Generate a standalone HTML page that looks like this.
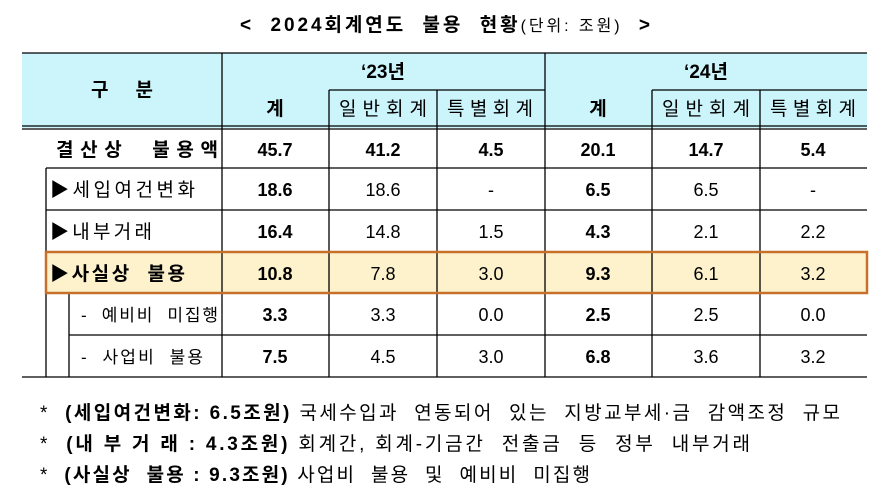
<!DOCTYPE html>
<html><head><meta charset="utf-8"><style>
body{margin:0;background:#fff;width:893px;height:504px;overflow:hidden}
svg{display:block;font-family:"Liberation Sans","Noto Sans CJK KR",sans-serif}
text{white-space:pre}
</style></head><body>
<svg width="893" height="504" viewBox="0 0 893 504">
<text x="240" y="31" textLength="410" lengthAdjust="spacing" font-size="19" font-weight="bold">&lt;  2024회계연도  불용  현황<tspan font-size="16" font-weight="normal">(단위: 조원)</tspan>  &gt;</text>
<rect x="22" y="53" width="845" height="75" fill="#ccf5fb"/>
<rect x="46" y="252" width="821" height="41" fill="#fdf2cc"/>
<g stroke="#000" stroke-width="1.3" fill="none">
<line x1="22" y1="53" x2="867" y2="53"/>
<line x1="329" y1="90" x2="545" y2="90"/><line x1="652" y1="90" x2="867" y2="90"/>
<line x1="22" y1="126" x2="867" y2="126"/><line x1="22" y1="129" x2="867" y2="129"/>
<line x1="46" y1="168" x2="867" y2="168"/>
<line x1="46" y1="210" x2="867" y2="210"/>
<line x1="69" y1="335" x2="867" y2="335"/>
<line x1="22" y1="377" x2="867" y2="377"/>
<line x1="222" y1="53" x2="222" y2="377"/><line x1="545" y1="53" x2="545" y2="377"/>
<line x1="329" y1="90" x2="329" y2="377"/><line x1="437" y1="90" x2="437" y2="377"/>
<line x1="652" y1="90" x2="652" y2="377"/><line x1="760" y1="90" x2="760" y2="377"/>
<line x1="46" y1="168" x2="46" y2="377"/><line x1="69" y1="293" x2="69" y2="377"/>
</g>
<rect x="46" y="252" width="821" height="41" fill="none" stroke="#c8702a" stroke-width="2.5"/>
<g font-size="19" font-weight="bold" text-anchor="middle">
<text x="91" y="96" text-anchor="start" textLength="62" lengthAdjust="spacing">구   분</text>
<text x="383" y="78">‘23년</text><text x="706" y="78">‘24년</text>
<text x="275" y="115">계</text>
<text x="339" y="115" text-anchor="start" textLength="88" lengthAdjust="spacing" font-weight="normal">일반회계</text>
<text x="447" y="115" text-anchor="start" textLength="86" lengthAdjust="spacing" font-weight="normal">특별회계</text>
<text x="598" y="115">계</text>
<text x="662" y="115" text-anchor="start" textLength="88" lengthAdjust="spacing" font-weight="normal">일반회계</text>
<text x="770" y="115" text-anchor="start" textLength="86" lengthAdjust="spacing" font-weight="normal">특별회계</text>
</g>
<g font-size="19">
<text x="56" y="156" font-weight="bold" textLength="162" lengthAdjust="spacing">결산상  불용액</text>
<text x="50" y="196" textLength="145" lengthAdjust="spacing">▶세입여건변화</text>
<text x="50" y="238" textLength="102" lengthAdjust="spacing">▶내부거래</text>
<text x="50" y="280" font-weight="bold" textLength="135" lengthAdjust="spacing">▶사실상  불용</text>
<text x="81" y="321" font-size="17" textLength="137" lengthAdjust="spacing">-  예비비  미집행</text>
<text x="81" y="363" font-size="17" textLength="122" lengthAdjust="spacing">-  사업비  불용</text>
</g>
<g font-size="18" text-anchor="middle">
<g font-weight="bold"><text x="275" y="156">45.7</text><text x="383" y="156">41.2</text><text x="491" y="156">4.5</text><text x="598" y="156">20.1</text><text x="706" y="156">14.7</text><text x="813" y="156">5.4</text></g>
<text x="275" y="196" font-weight="bold">18.6</text><text x="383" y="196">18.6</text><text x="491" y="196">-</text><text x="598" y="196" font-weight="bold">6.5</text><text x="706" y="196">6.5</text><text x="813" y="196">-</text>
<text x="275" y="238" font-weight="bold">16.4</text><text x="383" y="238">14.8</text><text x="491" y="238">1.5</text><text x="598" y="238" font-weight="bold">4.3</text><text x="706" y="238">2.1</text><text x="813" y="238">2.2</text>
<text x="275" y="280" font-weight="bold">10.8</text><text x="383" y="280">7.8</text><text x="491" y="280">3.0</text><text x="598" y="280" font-weight="bold">9.3</text><text x="706" y="280">6.1</text><text x="813" y="280">3.2</text>
<text x="275" y="321" font-weight="bold">3.3</text><text x="383" y="321">3.3</text><text x="491" y="321">0.0</text><text x="598" y="321" font-weight="bold">2.5</text><text x="706" y="321">2.5</text><text x="813" y="321">0.0</text>
<text x="275" y="363" font-weight="bold">7.5</text><text x="383" y="363">4.5</text><text x="491" y="363">3.0</text><text x="598" y="363" font-weight="bold">6.8</text><text x="706" y="363">3.6</text><text x="813" y="363">3.2</text>
</g>
<g font-size="19">
<text x="40" y="419" textLength="800" lengthAdjust="spacing">*  <tspan font-weight="bold">(세입여건변화: 6.5조원)</tspan> 국세수입과  연동되어  있는  지방교부세·금  감액조정  규모</text>
<text x="40" y="450" textLength="710" lengthAdjust="spacing">*  <tspan font-weight="bold">(내 부 거 래 : 4.3조원)</tspan> 회계간, 회계-기금간  전출금  등  정부  내부거래</text>
<text x="40" y="481" textLength="550" lengthAdjust="spacing">*  <tspan font-weight="bold">(사실상  불용 : 9.3조원)</tspan> 사업비  불용  및  예비비  미집행</text>
</g>
</svg>
</body></html>
